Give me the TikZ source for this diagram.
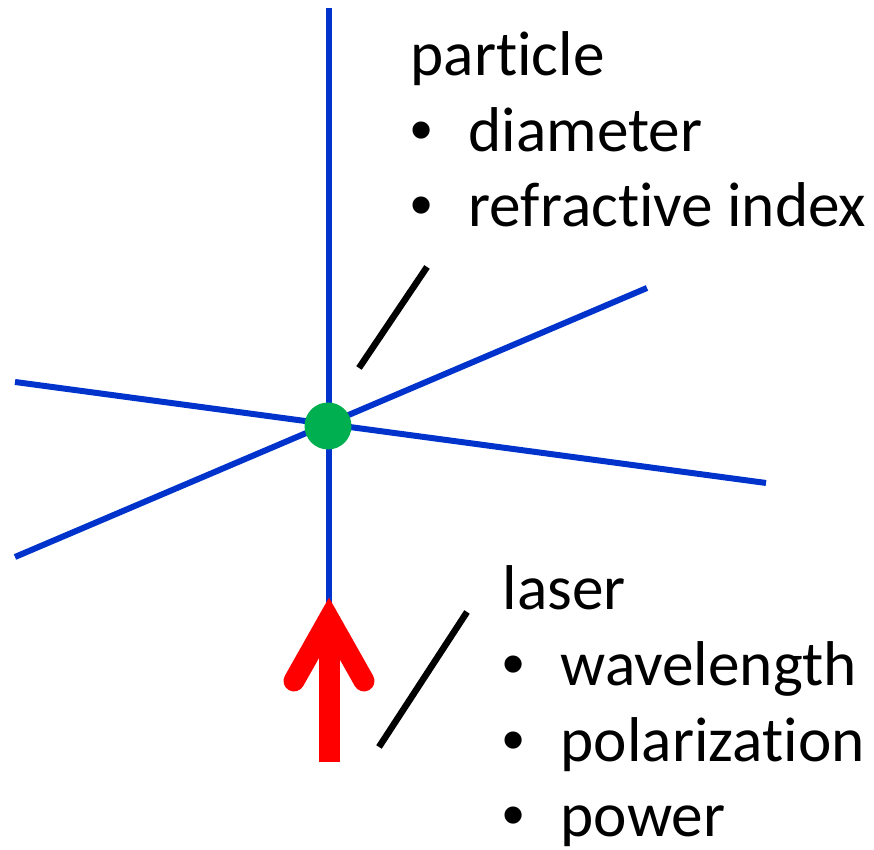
\documentclass[tikz,border=0pt]{standalone}
\usepackage{fontspec}
\setmainfont{Carlito}[Ligatures=NoCommon]
\newfontfamily\bulfont{Liberation Sans}
\usepackage{xcolor}
\usepackage{tikz}
\usetikzlibrary{positioning,calc}
\definecolor{beamblue}{HTML}{0033CC}
\definecolor{dotgreen}{HTML}{00B050}
\definecolor{laserred}{HTML}{FF0000}
\newcommand{\bul}{\makebox[0.58cm][l]{\bulfont\textbullet}}

\begin{document}
\begin{tikzpicture}[
  font=\fontsize{18pt}{21.6pt}\selectfont,
  every node/.style={align=left},
  beam/.style={beamblue,line width=0.06cm},
  pointer/.style={black,line width=0.065cm},
  laser/.style={laserred,line width=0.21cm},
  label/.style={inner sep=0pt,anchor=base west}
]
\useasboundingbox (0,0) rectangle (8.74,8.50);

\coordinate (c)  at (3.28,4.24);
\coordinate (vt) at (3.29,8.42);
\coordinate (vb) at (3.29,0.88);
\coordinate (a1) at (0.15,4.68);
\coordinate (a2) at (7.66,3.67);
\coordinate (b1) at (0.15,2.93);
\coordinate (b2) at (6.47,5.62);

% scattered beams
\draw[beam] (vt) -- (vb);
\draw[beam] (a1) -- (a2);
\draw[beam] (b1) -- (b2);
\node[circle,fill=dotgreen,minimum size=0.47cm,inner sep=0pt] (dot) at (c) {};

% incoming laser
\coordinate (tip) at (3.29,2.31);
\coordinate (hl)  at (2.94,1.69);
\coordinate (hr)  at (3.64,1.69);
\draw[laser] (vb) -- (tip);
\draw[laser,line cap=round,miter limit=10] (hl) -- (tip) -- (hr);

% base west = baseline of the last line
\node[label] (part) at (4.10,6.23)
  {particle\\\bul diameter\\\bul refractive index};
\node[label] (las) at (5.02,0.13)
  {laser\\\bul wavelength\\\bul polarization\\\bul power};

\coordinate (p1) at (3.59,4.82);
\coordinate (p2) at (4.27,5.83);
\coordinate (l1) at (3.79,1.03);
\coordinate (l2) at (4.67,2.38);
\draw[pointer] (p1) -- (p2);
\draw[pointer] (l1) -- (l2);
\end{tikzpicture}
\end{document}
